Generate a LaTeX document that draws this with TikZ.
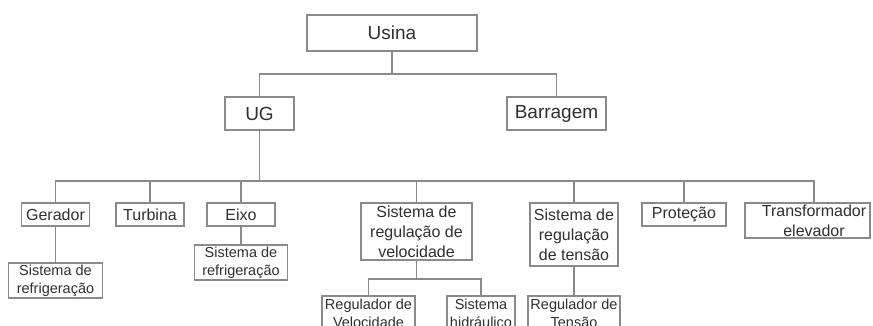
\documentclass[tikz,border=0pt]{standalone}
\usepackage{fontspec}
\setmainfont{Liberation Sans}
\usetikzlibrary{calc}
\definecolor{linegray}{HTML}{8A8A8A}
\definecolor{textgray}{HTML}{303030}
\begin{document}
\begin{tikzpicture}[x=1pt,y=-1pt,
  box/.style={draw=linegray, line width=1.2pt, fill=white, text=textgray, align=center, inner sep=0pt},
  lvA/.style={box, font=\fontsize{19}{22}\selectfont},
  lvB/.style={box, font=\fontsize{16}{20}\selectfont},
  lvC/.style={box, font=\fontsize{14.5}{18}\selectfont},
  conn/.style={draw=linegray, line width=1.2pt}]
\useasboundingbox (0,0) rectangle (873,326);
\clip (0,0) rectangle (873,326);
\fill[white] (0,0) rectangle (873,326);

% level 1-2
\node[lvA, minimum width=170pt, minimum height=36pt] (usina) at (392,33) {Usina};
\node[lvA, minimum width=69pt, minimum height=33pt] (ug) at (259.5,113.5) {UG};
\node[lvA, minimum width=99pt, minimum height=33pt] (barr) at (556.5,113.5) {Barragem};

% level 3
\node[lvB, minimum width=68pt, minimum height=23pt] (gerador) at (55.5,214.5) {Gerador};
\node[lvB, minimum width=68pt, minimum height=23pt] (turbina) at (150,214.5) {Turbina};
\node[lvB, minimum width=68pt, minimum height=23pt] (eixo) at (241,214.5) {Eixo};
\node[lvB, minimum width=111pt, minimum height=57pt] (srv) at (416.5,231.5) {Sistema de\\regulação de\\velocidade};
\node[lvB, minimum width=88pt, minimum height=63pt] (srt) at (574,234.5) {Sistema de\\regulação\\de tensão};
\node[lvB, minimum width=84pt, minimum height=23pt] (prot) at (684,214.5) {Proteção};
\node[lvB, minimum width=125pt, minimum height=35pt] (trans) at (807.5,220.5) {};
\node[text=textgray, align=center, inner sep=0pt, font=\fontsize{16}{20}\selectfont] (transtxt) at (814,221) {Transformador\\elevador};

% level 4
\node[lvC, minimum width=94pt, minimum height=35pt] (gsub) at (55.5,280.5) {Sistema de\\refrigeração};
\node[lvC, minimum width=93pt, minimum height=35pt] (esub) at (241,262.5) {Sistema de\\refrigeração};
\node[lvC, minimum width=93pt, minimum height=35pt] (regvel) at (368.5,313.5) {Regulador de\\Velocidade};
\node[lvC, minimum width=68pt, minimum height=35pt] (sishid) at (481,313.5) {Sistema\\hidráulico};
\node[lvC, minimum width=92pt, minimum height=35pt] (regten) at (574,313.5) {Regulador de\\Tensão};

% connectors
\coordinate (b1) at (392,74);
\draw[conn] (usina.south) -- (b1);
\draw[conn] (ug.north) |- (b1) -| (barr.north);

\coordinate (b2) at (259.5,181);
\draw[conn] (ug.south) -- (b2);
\draw[conn] (gerador.north) |- (b2) -| (transtxt |- trans.north);
\draw[conn] (turbina.north) -- (turbina.north |- b2);
\draw[conn] (eixo.north) -- (eixo.north |- b2);
\draw[conn] (srv.north) -- (srv.north |- b2);
\draw[conn] (srt.north) -- (srt.north |- b2);
\draw[conn] (prot.north) -- (prot.north |- b2);

\draw[conn] (gerador.south) -- (gerador.south |- gsub.north);
\draw[conn] (eixo.south) -- (eixo.south |- esub.north);

\coordinate (b3) at (416.5,279);
\draw[conn] (srv.south) -- (b3);
\draw[conn] (regvel.north) |- (b3) -| (sishid.north);
\draw[conn] (srt.south) -- (srt.south |- regten.north);
\end{tikzpicture}
\end{document}
